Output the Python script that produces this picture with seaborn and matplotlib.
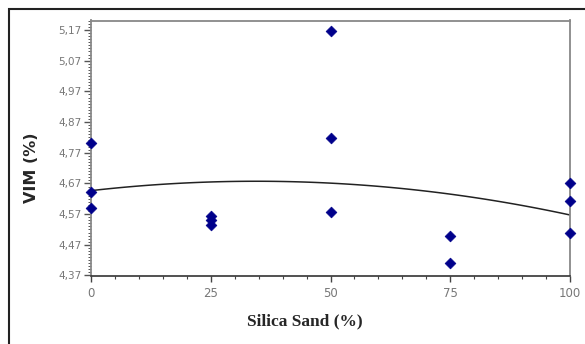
import matplotlib
matplotlib.use("Agg")
import matplotlib.pyplot as plt
import seaborn as sns
import numpy as np
import pandas as pd
from matplotlib.ticker import MultipleLocator, FixedLocator, FuncFormatter
from matplotlib.patches import Rectangle

silica_sand = [0, 0, 0, 25, 25, 25, 50, 50, 50, 75, 75, 100, 100, 100]
vim = [4.802, 4.642, 4.591, 4.565, 4.55, 4.535, 5.168, 4.819, 4.577, 4.50, 4.41, 4.67, 4.612, 4.508]
y_ticks = [4.37, 4.47, 4.57, 4.67, 4.77, 4.87, 4.97, 5.07, 5.17]
x_ticks = [0, 25, 50, 75, 100]

df = pd.DataFrame({"Silica Sand (%)": silica_sand, "VIM (%)": vim})

sns.set_style("white")
fig = plt.figure(figsize=(5.85, 3.44), dpi=100)
ax = fig.add_axes([91/585, 1-275.5/344, (570-91)/585, (275.5-20.5)/344])

sns.regplot(data=df, x="Silica Sand (%)", y="VIM (%)", order=2, ci=None,
            scatter=False, ax=ax, line_kws=dict(color="#222222", lw=1.1))
sns.scatterplot(data=df, x="Silica Sand (%)", y="VIM (%)", marker="D", s=30,
                color="#00008B", edgecolor="#00008B", linewidth=0.5, ax=ax,
                zorder=5, clip_on=False)

ax.set_xlim(0, 100)
ax.set_ylim(4.37, 5.201)
ax.set_xlabel("")
ax.set_ylabel("")
ax.yaxis.set_major_locator(FixedLocator(y_ticks))
ax.yaxis.set_minor_locator(FixedLocator([4.37 + 0.01*i for i in range(84)]))
ax.yaxis.set_major_formatter(FuncFormatter(lambda v, p: f"{v:.2f}".replace(".", ",")))
ax.xaxis.set_major_locator(FixedLocator(x_ticks))
ax.xaxis.set_minor_locator(MultipleLocator(5))

ax.tick_params(axis="y", which="major", direction="out", length=5, width=1,
               color="#555555", labelsize=7.5, labelcolor="#777777", pad=2, left=True)
ax.tick_params(axis="y", which="minor", direction="out", length=2.5, width=0.7,
               color="#555555", left=True)
ax.tick_params(axis="x", which="major", direction="out", length=4, width=1,
               color="#444444", labelsize=8.5, labelcolor="#777777", pad=4, bottom=True)
ax.tick_params(axis="x", which="minor", direction="out", length=2.5, width=0.8,
               color="#444444", bottom=True)

for side in ["left", "right", "top"]:
    ax.spines[side].set_color("#888888")
    ax.spines[side].set_linewidth(1.3)
ax.spines["bottom"].set_color("#333333")
ax.spines["bottom"].set_linewidth(1.2)

fig.text(305/585, 1-321/344, "Silica Sand (%)", ha="center", va="center",
         family="Liberation Serif", fontweight="bold", fontsize=12.5)
fig.text(31/585, 1-168/344, "VIM (%)", ha="center", va="center", rotation=90,
         family="DejaVu Sans", fontweight="bold", fontsize=11.5)

fig.patches.append(Rectangle((9/585, -0.1), 1.2, 1-9/344+0.1, transform=fig.transFigure,
                             fill=False, edgecolor="#222222", linewidth=1.5))

fig.savefig("out.png", dpi=100)
